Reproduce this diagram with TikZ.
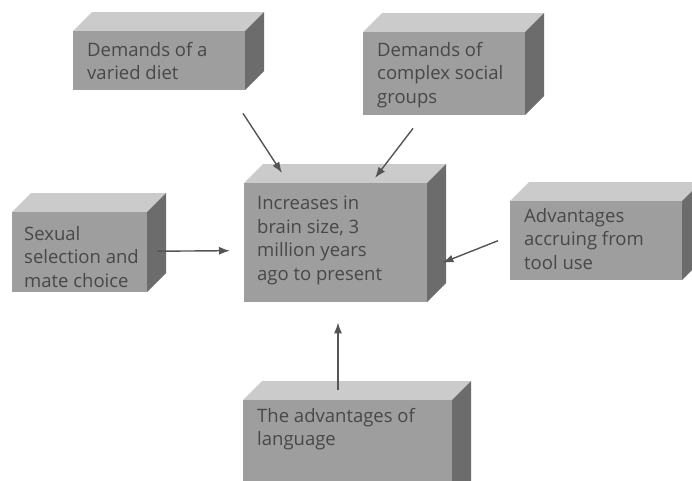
\documentclass[tikz,border=0pt]{standalone}
\usepackage{fontspec}
\setmainfont{Open Sans}
\usetikzlibrary{arrows.meta,calc}
\definecolor{frontc}{RGB}{158,158,158}
\definecolor{topc}{RGB}{203,203,203}
\definecolor{sidec}{RGB}{108,108,108}
\definecolor{txtc}{RGB}{72,72,72}
\definecolor{arrc}{RGB}{85,85,85}
\tikzset{
  face/.style={fill=frontc, draw=none, inner sep=0pt, anchor=north west},
  topface/.style={fill=topc},
  sideface/.style={fill=sidec},
  lbl/.style={anchor=north west, inner sep=0pt, align=left, text=txtc,
    font=\fontsize{18.5pt}{23.5pt}\selectfont},
  conn/.style={draw=arrc, line width=1.4pt, -{Latex[length=11pt,width=8pt]}}
}
% #1 name, #2 x, #3 y, #4 w, #5 h
\newcommand{\cubebox}[5]{%
  \fill[topface] (#2,#3) -- ++(19,-19) -- ++(#4,0) -- ++(-19,19) -- cycle;
  \fill[sideface] (#2+#4,#3) -- ++(19,-19) -- ++(0,#5) -- ++(-19,19) -- cycle;
  \node[face, minimum width=#4pt, minimum height=#5pt] (#1) at (#2,#3) {};
}
\begin{document}
\begin{tikzpicture}[x=1pt,y=-1pt]
\clip (0,0) rectangle (692,480);
\fill[white] (0,0) rectangle (692,480);

\cubebox{diet}{73}{31}{172}{59}
\node[lbl] (dietT) at (87,42) {Demands of a\\varied diet};

\cubebox{social}{363}{32}{162}{83}
\node[lbl] (socialT) at (377,42) {Demands of\\complex social\\groups};

\cubebox{brain}{244}{183}{183}{119}
\node[lbl] (brainT) at (257,196) {Increases in\\brain size, 3\\million years\\ago to present};

\cubebox{tool}{510}{201}{172}{79}
\node[lbl] (toolT) at (524,208) {Advantages\\accruing from\\tool use};

\cubebox{sexual}{12}{212}{135}{80}
\node[lbl] (sexualT) at (24,226) {Sexual\\selection and\\mate choice};

\cubebox{lang}{243}{400}{209}{110}
\node[lbl] (langT) at (257,408) {The advantages of\\language};

\coordinate (dietOut) at ($(diet.south west)+(170,23)$);
\coordinate (brainInA) at ($(brain.north west)+(38,-10)$);
\coordinate (socialOut) at ($(social.south west)+(50,13)$);
\coordinate (brainInB) at ($(brain.north west)+(131,-5)$);
\coordinate (sexualOut) at ($(sexual.east)+(10,-1)$);
\coordinate (brainInC) at ($(brain.west)+(-14,8)$);
\coordinate (toolOut) at ($(tool.west)+(-12,0)$);
\coordinate (brainInD) at ($(brain.east)+(15,20)$);
\coordinate (langOut) at ($(lang.north west)+(95,-10)$);
\coordinate (brainInE) at ($(brain.south west)+(94,20)$);

\draw[conn] (dietOut) -- (brainInA);
\draw[conn] (socialOut) -- (brainInB);
\draw[conn] (sexualOut) -- (brainInC);
\draw[conn] (toolOut) -- (brainInD);
\draw[conn] (langOut) -- (brainInE);
\end{tikzpicture}
\end{document}
